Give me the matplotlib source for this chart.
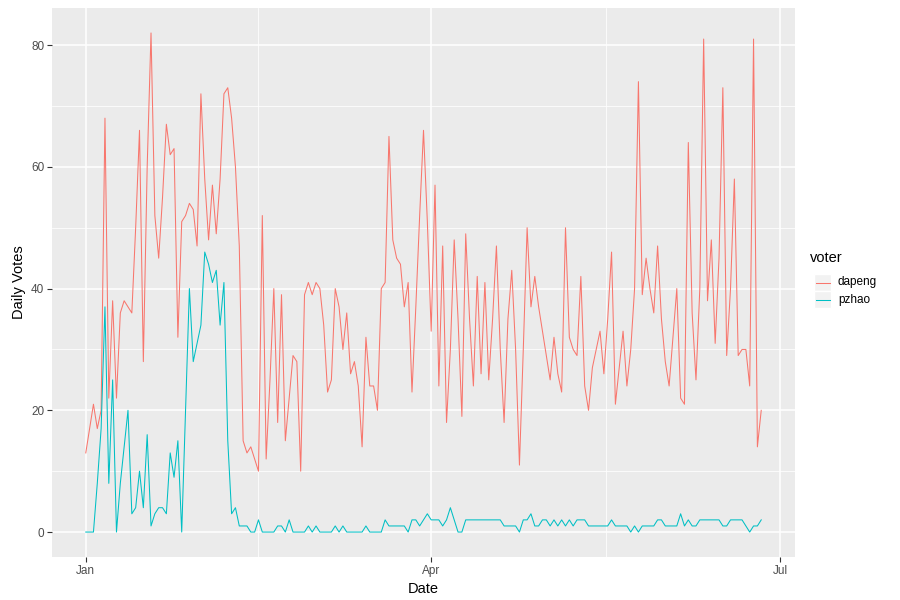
import numpy as np
import pandas as pd
import matplotlib
matplotlib.use("Agg")
import matplotlib.pyplot as plt
import matplotlib.dates as mdates
from matplotlib.lines import Line2D
from matplotlib.patches import Rectangle

plt.rcParams['font.family'] = ['Liberation Sans', 'DejaVu Sans']

start_date = "2017-01-01"
voters = ["dapeng", "pzhao"]
colors = ["#F8766D", "#00BFC4"]

dapeng = [13, 17, 21, 17, 20, 68, 22, 38, 22, 36, 38, 37, 36, 50, 66, 28, 60, 82, 52, 45,
          55, 67, 62, 63, 32, 51, 52, 54, 53, 47, 72, 58, 48, 57, 49, 58, 72, 73, 68, 60,
          47, 15, 13, 14, 12, 10, 52, 12, 25, 40, 18, 39, 15, 22, 29, 28, 10, 39, 41, 39,
          41, 40, 34, 23, 25, 40, 37, 30, 36, 26, 28, 24, 14, 32, 24, 24, 20, 40, 41, 65,
          48, 45, 44, 37, 41, 23, 37, 52, 66, 51, 33, 57, 24, 47, 18, 30, 48, 35, 19, 49,
          35, 24, 42, 26, 41, 25, 35, 47, 30, 18, 35, 43, 30, 11, 30, 50, 37, 42, 37, 33,
          29, 25, 32, 26, 23, 50, 32, 30, 29, 42, 24, 20, 27, 30, 33, 26, 35, 46, 21, 27,
          33, 24, 30, 40, 74, 39, 45, 40, 36, 47, 35, 28, 24, 32, 40, 22, 21, 64, 36, 25,
          40, 81, 38, 48, 31, 45, 73, 29, 40, 58, 29, 30, 30, 24, 81, 14, 20]

pzhao = [0, 0, 0, 8, 17, 37, 8, 25, 0, 8, 14, 20, 3, 4, 10, 4, 16, 1, 3, 4,
         4, 3, 13, 9, 15, 0, 20, 40, 28, 31, 34, 46, 44, 41, 43, 34, 41, 15, 3, 4,
         1, 1, 1, 0, 0, 2, 0, 0, 0, 0, 1, 1, 0, 2, 0, 0, 0, 0, 1, 0,
         1, 0, 0, 0, 0, 1, 0, 1, 0, 0, 0, 0, 0, 1, 0, 0, 0, 0, 2, 1,
         1, 1, 1, 1, 0, 2, 2, 1, 2, 3, 2, 2, 2, 1, 2, 4, 2, 0, 0, 2,
         2, 2, 2, 2, 2, 2, 2, 2, 2, 1, 1, 1, 1, 0, 2, 2, 3, 1, 1, 2,
         2, 1, 2, 1, 2, 1, 2, 1, 2, 2, 2, 1, 1, 1, 1, 1, 1, 2, 1, 1,
         1, 1, 0, 1, 0, 1, 1, 1, 1, 2, 2, 1, 1, 1, 1, 3, 1, 2, 1, 1,
         2, 2, 2, 2, 2, 2, 1, 1, 2, 2, 2, 2, 1, 0, 1, 1, 2]

x_tick_dates = ["2017-01-01", "2017-04-01", "2017-07-01"]
x_tick_labels = ["Jan", "Apr", "Jul"]
y_ticks = [0, 20, 40, 60, 80]

dates = pd.date_range(start_date, periods=len(dapeng), freq="D")
series = [dapeng, pzhao]

W, H = 900, 600
fig = plt.figure(figsize=(9, 6), dpi=100)
fig.patch.set_facecolor("white")
ax = fig.add_axes([52 / W, 1 - 557 / H, (795 - 52) / W, (557 - 8) / H])
ax.set_facecolor("#EBEBEB")

# limits with ggplot-like 5% expansion
xnum = mdates.date2num(dates)
xr = xnum[-1] - xnum[0]
ax.set_xlim(xnum[0] - 0.05 * xr, xnum[-1] + 0.05 * xr)
allv = np.array(dapeng + pzhao)
yr = allv.max() - allv.min()
ax.set_ylim(allv.min() - 0.05 * yr, allv.max() + 0.05 * yr)

# grid
xt = mdates.date2num(pd.to_datetime(x_tick_dates))
x_minor = (xt[:-1] + xt[1:]) / 2
y_minor = [10, 30, 50, 70]
for v in x_minor:
    ax.axvline(v, color="white", lw=0.55, zorder=1)
for v in y_minor:
    ax.axhline(v, color="white", lw=0.55, zorder=1)
for v in xt:
    ax.axvline(v, color="white", lw=1.1, zorder=1)
for v in y_ticks:
    ax.axhline(v, color="white", lw=1.1, zorder=1)

for vals, c, name in zip(series, colors, voters):
    ax.plot(dates, vals, color=c, lw=0.75, zorder=3, label=name)

ax.set_xticks(xt)
ax.set_xticklabels(x_tick_labels)
ax.set_yticks(y_ticks)
ax.set_yticklabels([str(v) for v in y_ticks])
ax.tick_params(axis="both", length=3.5, width=0.8, color="#333333",
               labelcolor="#4D4D4D", labelsize=8.5, pad=2)
for s in ax.spines.values():
    s.set_visible(False)

ax.set_xlabel("Date", fontsize=10.5, color="black", labelpad=4)
ax.set_ylabel("Daily Votes", fontsize=10.5, color="black", labelpad=4)

# legend (drawn in figure pixel coords)
def fx(px):
    return px / W

def fy(py):
    return 1 - py / H

fig.text(fx(810), fy(258), "voter", fontsize=10.5, ha="left", va="center")
key_w, key_h = 17, 17
key_x = 814
key_tops = [274, 291]
for i, (c, name) in enumerate(zip(colors, voters)):
    top = key_tops[i]
    fig.add_artist(Rectangle((fx(key_x), fy(top + key_h)), key_w / W, key_h / H,
                             transform=fig.transFigure, facecolor="#F2F2F2",
                             edgecolor="white", lw=1.0))
    cy = top + key_h / 2
    fig.add_artist(Line2D([fx(key_x + 1.5), fx(key_x + key_w - 1.5)], [fy(cy), fy(cy)],
                          transform=fig.transFigure, color=c, lw=0.75))
    fig.text(fx(key_x + key_w + 7), fy(cy), name, fontsize=8.5, ha="left",
             va="center", color="black")

fig.savefig("out.png", dpi=100)
